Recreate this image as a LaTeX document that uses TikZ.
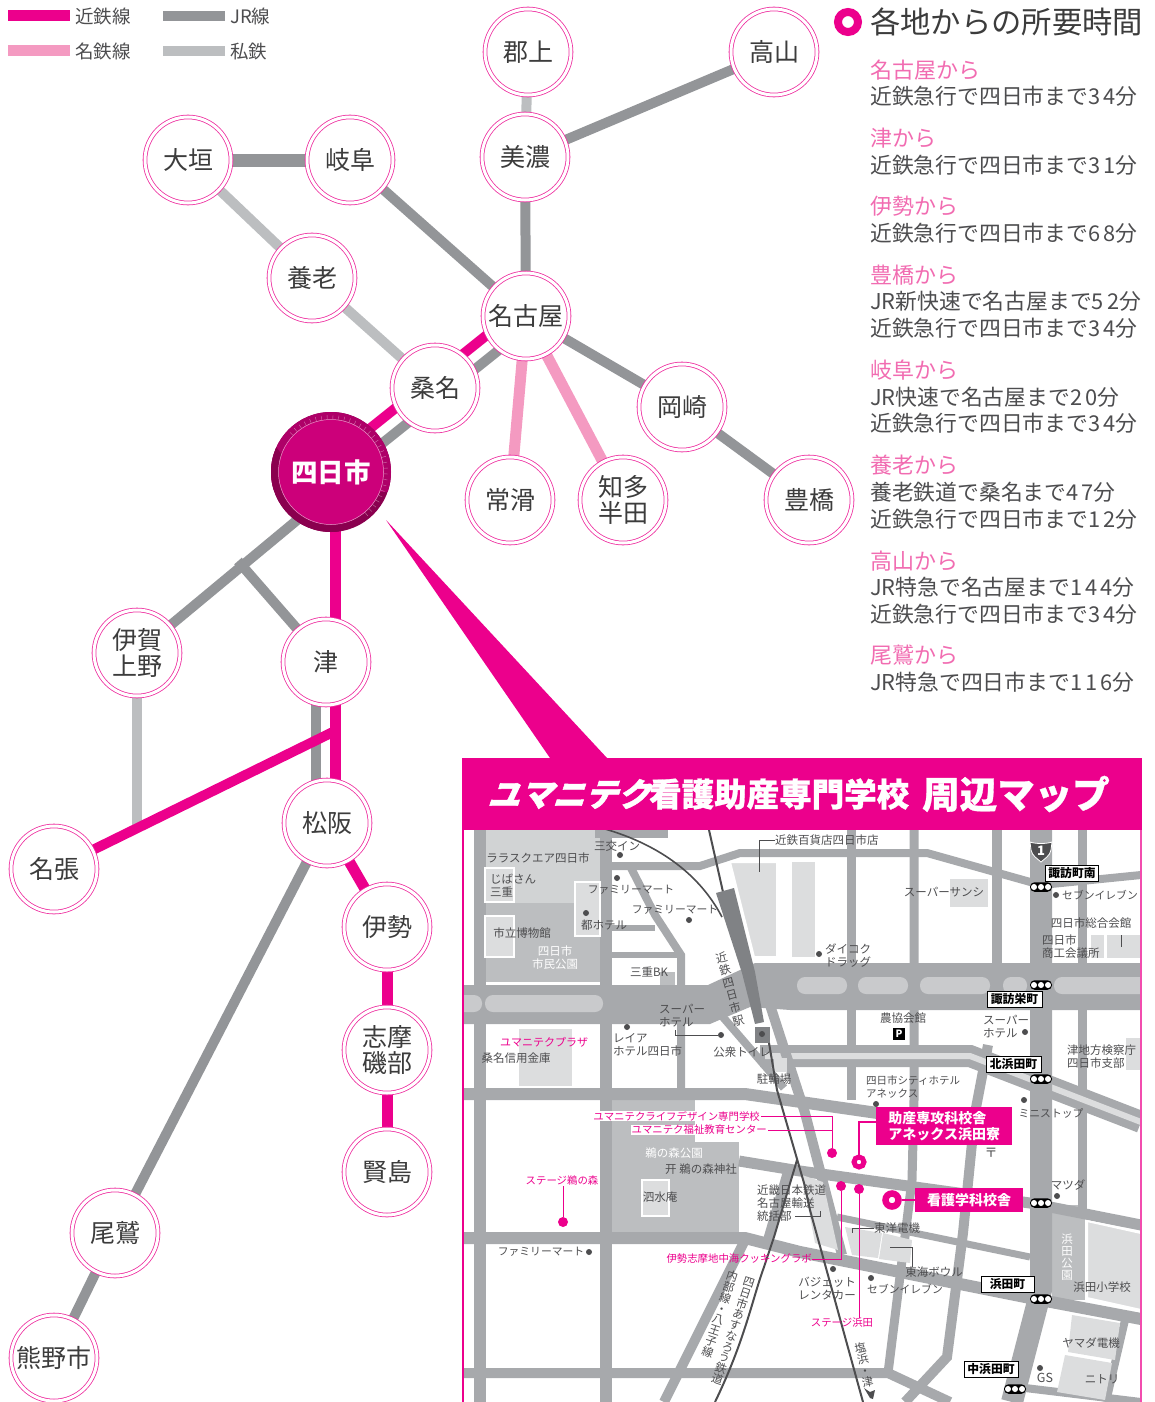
\documentclass[tikz,border=0pt]{standalone}
\usepackage{fontspec}
\setmainfont{Noto Sans CJK JP}
\newfontfamily\hdfont[FakeSlant=0.32,FakeBold=1.5]{Noto Sans CJK JP}
\newfontfamily\hbfont[FakeBold=.8]{Noto Sans CJK JP}
\newfontfamily\spc[LetterSpace=15]{Noto Sans CJK JP}
\usetikzlibrary{backgrounds,calc}
\definecolor{kin}{HTML}{EC008C}
\definecolor{mei}{HTML}{F49AC1}
\definecolor{jr}{HTML}{939598}
\definecolor{pri}{HTML}{BCBEC0}
\definecolor{roadc}{HTML}{A7A9AC}
\definecolor{bld}{HTML}{DCDDDE}
\definecolor{parkc}{HTML}{BCBEC0}
\definecolor{parkl}{HTML}{D1D3D4}
\definecolor{strip}{HTML}{C9CACC}
\definecolor{mapt}{HTML}{4D4D4F}
\definecolor{nodet}{HTML}{3C3C3C}
\definecolor{ringc}{HTML}{EE2FA0}
\definecolor{yokc}{HTML}{CC007A}
\definecolor{yokd}{HTML}{8A004F}
\definecolor{yokm}{HTML}{AE0068}
\definecolor{plat}{HTML}{808285}
\newcommand\fs[2]{\fontsize{#1}{#2}\selectfont}
\tikzset{
 st/.style={circle,minimum size=86pt,inner sep=0pt,draw=ringc,line width=.8pt,double=white,double distance=3pt,fill=white,text=nodet,align=center,font=\fs{25}{26}},
 kl/.style={line width=11pt,draw=kin},
 ml/.style={line width=11pt,draw=mei},
 jl/.style={line width=10pt,draw=jr},
 pl/.style={line width=10pt,draw=pri},
 leg/.style={anchor=west,inner sep=0pt,text=mapt,font=\fs{18.5}{19}},
 ttl/.style={anchor=west,inner sep=0pt,text=mei!70!kin,font=\fs{22}{22}},
 bdy/.style={anchor=west,inner sep=0pt,text=mapt,font=\fs{21.8}{22}},
 road/.style={draw=roadc,line join=miter},
 lbl/.style={inner sep=0pt,text=mapt,align=center,font=\fs{11.5}{13}},
 lbk/.style={lbl,font=\fs{10.8}{13}},
 lbw/.style={lbl,text=white},
 lbp/.style={inner sep=0pt,text=kin,align=center,font=\fs{10.4}{12}},
 lead/.style={draw=mapt,line width=.7pt},
 plead/.style={draw=kin,line width=1pt},
 dot/.style={circle,fill=mapt,minimum size=6pt,inner sep=0pt},
 pdot/.style={circle,fill=kin,minimum size=10pt,inner sep=0pt},
 ringn/.style={circle,draw=kin,fill=white,inner sep=0pt},
 junc/.style={draw=black,line width=.9pt,fill=white,inner sep=0pt,minimum height=16pt,text=black,font=\fs{11.8}{12}\bfseries},
 sigbox/.style={draw=none,fill=black,rounded corners=4.5pt,minimum width=22pt,minimum height=9.5pt,inner sep=0pt},
 pbox/.style={fill=kin,text=white,inner sep=0pt,align=left,font=\fs{14}{17}\bfseries},
 bb/.style={fill=bld},
 bbw/.style={fill=bld,draw=white,line width=2pt},
 stack/.style={inner sep=0pt,text=mapt,align=center},
}
\newcommand\sig[3]{\node[sigbox] (#1) at (#2,#3) {};
 \foreach \d in {-7,0,7}{\fill[white] ([shift={(\d,0)}]#1.center) circle (3pt);}}
\begin{document}
\begin{tikzpicture}[x=1pt,y=-1pt]
\useasboundingbox (0,0) rectangle (1154,1402);
% ---------- legend
\coordinate (la1) at (8,16); \coordinate (la2) at (70,16);
\coordinate (lb1) at (163,16); \coordinate (lb2) at (225,16);
\coordinate (lc1) at (8,51); \coordinate (lc2) at (70,51);
\coordinate (ld1) at (163,51); \coordinate (ld2) at (225,51);
\draw[kl] (la1)--(la2); \draw[jl] (lb1)--(lb2); \draw[ml] (lc1)--(lc2); \draw[pl] (ld1)--(ld2);
\node[leg] (lt1) at (75,16) {近鉄線};
\node[leg] (lt2) at (230,16) {JR線};
\node[leg] (lt3) at (75,51) {名鉄線};
\node[leg] (lt4) at (230,51) {私鉄};
% ---------- callout
\fill[kin] (386,520) -- (607,758) -- (550,758) -- cycle;
% ---------- map
\begin{scope}
\clip (464,830) rectangle (1141,1402);
% parks
\fill[parkl] (485,830) rectangle (600,903);
\fill[parkc] (485,903) rectangle (600,982);
\fill[parkc] (612,1100) rectangle (739,1232);
\fill[white] (695,1100) rectangle (739,1142);
\fill[parkc] (1052,1205) rectangle (1085,1300);
% roads
\draw[road,line width=12pt] (480,830)--(480,1402);
\draw[road,line width=12pt] (606,830)--(606,1402);
\draw[road,line width=8pt] (630,866)--(655,915)--(681,955)--(681,1094);
\draw[road,line width=8pt] (606,866)--(700,866)--(740,853)--(927,853)--(1041,885)--(1141,875);
\draw[road,line width=6pt] (606,928)--(655,928);
\draw[road,line width=6pt] (606,955)--(681,955);
\draw[road,line width=8pt] (595,834)--(668,834);
\draw[road,line width=9pt] (851,830)--(851,1100);
\draw[road,line width=9pt] (914,830)--(914,1100)--(912,1180)--(888,1373);
\draw[road,line width=10pt] (997,830)--(997,965);
\draw[road,line width=10pt] (988,1045)--(975,1113)--(963,1233)--(947,1357)--(905,1402);
\draw[road,line width=9pt] (1082,830)--(1082,1210);
\fill[roadc] (464,985) -- (708,985) -- (755,963) -- (1141,963) -- (1141,1010) -- (790,1010) -- (750,1007) -- (724,1018) -- (710,1024) -- (464,1024) -- cycle;
\draw[road,line width=22pt] (760,1056)--(970,1056)--(1141,1122);
\draw[draw=bld,line width=6pt] (765,1056)--(970,1056)--(1141,1122);
\draw[road,line width=22pt] (1041,830)--(1041,1290)--(1012,1402);
\draw[road,line width=12pt] (464,1094)--(745,1094)--(975,1127);
\draw[road,line width=11pt] (739,1161)--(800,1171)--(1030,1203)--(1141,1225);
\draw[road,line width=12pt] (464,1238)--(745,1238)--(800,1252)--(1030,1298)--(1141,1319);
\draw[road,line width=7pt] (837,1217)--(1030,1257);
\draw[road,line width=10pt] (464,1373)--(888,1373)--(950,1402);
\draw[road,line width=8pt] (1017,1387)--(1141,1402);
\draw[road,line width=10pt] (770,1005)--(805,1113)--(842,1255);
\draw[road,line width=8pt] (722,1016)--(784,1088);
\draw[road,line width=10pt] (790,1165)--(768,1240);
\draw[road,line width=10pt] (745,1240)--(664,1402);
\draw[road,line width=8pt] (1106,1402)--(1125,1320);
% strips
\foreach \a/\b in {450/482,485/603}{\fill[strip,rounded corners=8pt] (\a,995) rectangle (\b,1012);}
\foreach \a/\b in {797/847,858/908,920/990,1003/1027,1054/1160}{\fill[strip,rounded corners=8pt] (\a,977) rectangle (\b,994);}
% buildings
\fill[bbw] (485,868) rectangle (514,902);
\fill[bbw] (485,916) rectangle (514,957);
\fill[bbw] (575,882) rectangle (600,936);
\fill[bbw] (730,862) -- (777,862) -- (777,957) -- (754,957) -- cycle;
\fill[bb] (792,862) rectangle (815,957);
\fill[parkc] (660,972) rectangle (675,985);
\fill[bb] (519,1029) rectangle (572,1086);
\fill[bb] (774,1058) rectangle (787,1072);
\fill[bb] (950,879) rectangle (988,907);
\fill[bb] (1091,935) rectangle (1104,958);
\fill[bb] (1107,935) rectangle (1141,958);
\fill[bb] (1126,1038) rectangle (1141,1070);
\fill[bbw] (642,1180) rectangle (669,1216);
\fill[bbw] (1087,1221) -- (1141,1233) -- (1141,1310) -- (1087,1298) -- cycle;
\fill[bb] (1072,1315) -- (1120,1323) -- (1115,1360) -- (1068,1352) -- cycle;
\fill[bb] (1065,1355) -- (1112,1363) -- (1105,1400) -- (1057,1392) -- cycle;
\fill[bb] (845,1227) -- (882,1233) -- (878,1258) -- (852,1255) -- cycle;
\fill[bb] (883,1233) -- (912,1240) -- (910,1263) -- (879,1259) -- cycle;
\fill[bb] (802,1175) -- (823,1182) -- (838,1250) -- (815,1243) -- cycle;
% railways
\draw[mapt,line width=1.6pt] (605,829) .. controls (660,845) and (700,875) .. (722,917);
\draw[mapt,line width=2pt] (709,830)--(723,892);
\fill[plat] (716,893) -- (734,888) -- (755,972) -- (764,1022) -- (755,1024) -- (742,973) -- cycle;
\fill[plat] (755,1027) rectangle (770,1043);
\fill[mapt] (762,1034) circle (3pt);
\draw[mapt,line width=2pt] (769,1043)--(777,1090)--(804,1183)--(810,1210)--(863,1402);
\draw[mapt,line width=2pt] (797,1160)--(774,1237)--(764,1267) .. controls (752,1300) and (745,1340) .. (715,1402);
\end{scope}
% frame & header
\draw[kin,line width=2pt] (463,830)--(463,1402);
\draw[kin!70!white,line width=2pt] (1141,830)--(1141,1402);
\node[fill=kin,minimum width=680pt,minimum height=72pt,inner sep=0pt,anchor=north west] (hdr) at (462,758) {};
\node[anchor=west,inner sep=0pt,text=white,font=\hdfont\bfseries\fs{32.5}{33}] (h1) at (487,794) {ユマニテク};
\node[anchor=west,inner sep=0pt,text=white,font=\hbfont\bfseries\fs{32.5}{33}] (h2) at (649,794) {看護助産専門学校};
\node[anchor=west,inner sep=0pt,text=white,font=\hbfont\bfseries\fs{37.5}{38}] (h3) at (922,794) {周辺マップ};
% map labels
\node[lbl] (m1) at (538,858) {ララスクエア四日市};
\node[lbl] (m2) at (617,846) {三交イン};
\node[dot] (d2) at (620,855) {};
\node[lbl,anchor=west,align=left] (m3) at (490,886) {じばさん\\三重};
\node[dot] (d4) at (617,878) {};
\node[lbk] (m4) at (631,890) {ファミリーマート};
\node[lbk] (m5) at (675,910) {ファミリーマート};
\node[dot] (d5) at (689,920) {};
\node[dot] (d6) at (586,913) {};
\node[lbl] (m6) at (604,925) {都ホテル};
\node[lbl] (m7) at (522,933) {市立博物館};
\node[lbw] (m8) at (555,958) {四日市\\市民公園};
\node[lbl] (m9) at (649,972) {三重BK};
\node[lbl,anchor=west] (m10) at (775,840) {近鉄百貨店四日市店};
\coordinate (c10) at (759,872);
\draw[lead] (m10.west) -| (c10);
\node[lbl] (m11) at (944,892) {スーパーサンシ};
\node[dot] (d12) at (1056,895) {};
\node[lbk,anchor=west] (m12) at (1062,895) {セブンイレブン};
\node[lbl] (m13) at (1091,923) {四日市総合会館};
\coordinate (c13) at (1121,947);
\draw[lead] (1121,935) -- (c13);
\node[lbl,anchor=west,align=left] (m14) at (1042,947) {四日市\\商工会議所};
\node[dot] (d15) at (819,954) {};
\node[lbl,anchor=west,align=left] (m15) at (825,956) {ダイコク\\ドラッグ};
\node[stack,rotate=15,font=\fs{11.5}{13}] (m16) at (730,989) {近\\鉄\\四\\日\\市\\駅};
\node[lbp,inner xsep=2pt,text=kin,font=\fs{11}{12}] (m17) at (544,1042) {ユマニテクプラザ};
\node[lbl] (m18) at (516,1058) {桑名信用金庫};
\node[dot] (d19) at (627,1027) {};
\node[lbl,anchor=west,align=left] (m19) at (613,1045) {レイア\\ホテル四日市};
\node[lbl,anchor=west,align=left] (m20) at (659,1016) {スーパー\\ホテル};
\node[dot] (d20) at (721,1035) {};
\coordinate (c20) at (675,1030);
\draw[lead] (c20) |- (d20);
\node[lbl] (m21) at (742,1052) {公衆トイレ};
\node[lbl] (m22) at (774,1079) {駐輪場};
\node[lbl] (m23) at (903,1018) {農協会館};
\node[fill=black,text=white,minimum size=12pt,inner sep=0pt,font=\fs{10}{10}\bfseries] (m24) at (899,1034) {P};
\node[lbl,anchor=west,align=left] (m25) at (983,1027) {スーパー\\ホテル};
\node[dot] (d25) at (1025,1032) {};
\node[lbl,anchor=west,align=left] (m26) at (1067,1057) {津地方検察庁\\四日市支部};
\node[lbl,anchor=west,align=left,font=\fs{10.5}{13}] (m27) at (866,1087) {四日市シティホテル\\アネックス};
\node[dot] (d27) at (876,1104) {};
\node[dot] (d28) at (1024,1100) {};
\node[lbk] (m28) at (1051,1113) {ミニストップ};
\node[lbl,font=\fs{13}{13}] (m29) at (991,1153) {〒};
\node[lbl] (m30) at (1068,1185) {マツダ};
\node[dot] (d30) at (1057,1196) {};
\node[lbw] (m31) at (674,1153) {鵜の森公園};
\node[lbl] (m32) at (701,1169) {开 鵜の森神社};
\node[lbl] (m33) at (660,1197) {泗水庵};
\node[lbl,anchor=west,align=left] (m34) at (757,1203) {近畿日本鉄道\\名古屋輸送\\統括部};
\coordinate (c34) at (820,1211);
\draw[lead] (795,1216) -| (c34);
\node[lbk] (m35) at (541,1252) {ファミリーマート};
\node[dot] (d35) at (589,1252) {};
\node[lbl,align=left] (m36) at (827,1289) {バジェット\\レンタカー};
\node[dot] (d36) at (833,1269) {};
\node[lbk] (m37) at (905,1289) {セブンイレブン};
\node[dot] (d37) at (871,1278) {};
\node[lbl] (m38) at (897,1228) {東洋電機};
\coordinate (c38) at (852,1233);
\draw[lead] (m38.west) -| (c38);
\node[lbl] (m39) at (934,1272) {東海ボウル};
\coordinate (c39) at (890,1247);
\draw[lead] (c39) -| (m39.north -| 912,0);
\node[lbl] (m40) at (1102,1287) {浜田小学校};
\node[stack,text=white,font=\fs{11.5}{12}] (m41) at (1067,1257) {浜\\田\\公\\園};
\node[lbl] (m42) at (1091,1343) {ヤマダ電機};
\node[lbl,font=\fs{12.5}{13}] (m43) at (1045,1378) {GS};
\node[dot] (d43) at (1040,1368) {};
\node[lbl] (m44) at (1102,1379) {ニトリ};
\node[stack,rotate=-18,font=\fs{11.5}{11.3}] (m45) at (733,1331) {四\\日\\市\\あ\\す\\な\\ろ\\う\\鉄\\道};
\node[stack,rotate=-18,font=\fs{11.5}{11.3}] (m46) at (720,1314) {内\\部\\線\\・\\八\\王\\子\\線};
\node[stack,rotate=12,font=\fs{11.5}{11.5}] (m47) at (864,1365) {塩\\浜\\・\\津};
\fill[mapt] (864,1388) -- (870,1392) -- (875,1390) -- (873,1399) -- (870,1398) -- cycle;
% pink labels
\node[lbp,fill=white,anchor=east,inner xsep=1pt] (p1) at (761,1116) {ユマニテクライフデザイン専門学校};
\node[lbp,fill=white,anchor=east,inner xsep=1pt] (p2) at (768,1130) {ユマニテク福祉教育センター};
\node[pdot] (pd1) at (832,1153) {};
\draw[plead] (p1.east) -| (pd1);
\draw[plead] (p2.east) -- (pd1.north |- p2.east);
\node[pbox,anchor=north west,minimum width=136pt,minimum height=38pt,inner xsep=9pt] (b1) at (876,1107) {助産専攻科校舎\\アネックス浜田寮};
\node[ringn,line width=5pt,minimum size=10pt] (r1) at (859,1162) {};
\draw[kin,line width=2pt] (b1.west |- 859,1122) -| (r1);
\node[pbox,minimum width=108pt,minimum height=24pt,anchor=west,align=center] (b2) at (915,1200) {看護学科校舎};
\node[ringn,line width=6.5pt,minimum size=13pt] (r2) at (892,1200) {};
\draw[kin,line width=2pt] (r2) -- (b2);
\node[pdot] (pd2) at (841,1186) {};
\node[pdot] (pd3) at (859,1189) {};
\node[lbp,anchor=east] (p3) at (812,1259) {伊勢志摩地中海クッキングラボ};
\draw[plead] (pd2) |- (p3.east);
\node[lbp] (p4) at (842,1323) {ステージ浜田};
\draw[plead] (pd3) -- (pd3 |- p4.north);
\node[lbp] (p5) at (562,1181) {ステージ鵜の森};
\node[pdot] (pd5) at (563,1222) {};
\draw[plead] (pd5) -- (pd5 |- p5.south);
% junctions
\node[junc,minimum width=53pt] (j1) at (1072,873.5) {諏訪町南};
\node[junc,minimum width=55pt] (j2) at (1014.5,999.5) {諏訪栄町};
\node[junc,minimum width=55pt] (j3) at (1013.5,1064.5) {北浜田町};
\node[junc,minimum width=53pt] (j4) at (1007.5,1284) {浜田町};
\node[junc,minimum width=54pt] (j5) at (991,1369.5) {中浜田町};
\sig{s1}{1041}{887}
\sig{s2}{1041}{985}
\sig{s3}{1041}{1079}
\sig{s4}{1041}{1203}
\sig{s5}{1041}{1299}
\sig{s6}{1015}{1389}
\draw[fill=mapt,draw=white,line width=.8pt] (1030,842) .. controls (1036,844) and (1046,844) .. (1052,842) -- (1051,850) .. controls (1050,856) and (1044,859) .. (1041,862) .. controls (1038,859) and (1032,856) .. (1031,850) -- cycle;
\node[inner sep=0pt,text=white,font=\fs{13}{13}\bfseries] (rt) at (1041,851) {1};
% ---------- stations
\node[st] (gu) at (528,52) {郡上};
\node[st] (ta) at (774,52) {高山};
\node[st] (mi) at (525,157) {美濃};
\node[st] (gi) at (350,160) {岐阜};
\node[st] (og) at (188,160) {大垣};
\node[st] (yo) at (312,278) {養老};
\node[st] (nag) at (526,316) {名古屋};
\node[st] (ku) at (435,388) {桑名};
\node[st] (ok) at (682,407) {岡崎};
\node[st] (to) at (510,500) {常滑};
\node[st] (ch) at (623,500) {知多\\半田};
\node[st] (hs) at (809,500) {豊橋};
\node[st] (ig) at (137,653) {伊賀\\上野};
\node[st] (ts) at (326,662) {津};
\node[st] (ma) at (327,823) {松阪};
\node[st] (na) at (54,869) {名張};
\node[st] (is) at (387,927) {伊勢};
\node[st] (sh) at (387,1050) {志摩\\磯部};
\node[st] (ka) at (387,1172) {賢島};
\node[st] (ow) at (115,1233) {尾鷲};
\node[st] (ku2) at (54,1358) {熊野市};
\node[circle,fill=yokd,minimum size=120pt,inner sep=0pt] (yr) at (331,472) {};
\begin{scope}
\clip (331,472) circle (60pt);
\fill[yokm] (271,412) rectangle (401,492);
\fill[yokd] (271,440) -- (345,540) -- (271,540) -- cycle;
\end{scope}
\foreach \ang in {-50,-44,...,140}{\draw[white,opacity=.45,line width=.4pt] ($(yr.center)+(\ang:53pt)$) -- ($(yr.center)+(\ang:57pt)$);}
\node[circle,fill=yokc,draw=white!60!yokc,line width=.5pt,minimum size=105pt,inner sep=0pt,text=white,font=\fs{26.5}{27}\bfseries] (yok) at (331,472) {四日市};
% ---------- lines
\begin{scope}[on background layer]
\coordinate (br) at (238,561);
\coordinate (ipj) at (137,828);
\coordinate (nj) at (337,730);
\draw[pl] (gu.center)--(mi.center);
\draw[jl] (mi.center)--(ta.center);
\draw[jl] (mi.center)--(nag.center);
\draw[jl,line width=13pt] (og.center)--(gi.center);
\draw[jl] (gi.center)--(nag.center);
\draw[pl] (og.center)--(yo.center);
\draw[pl] (yo.center)--(ku.center);
\draw[kl,line width=10pt] ([shift={(-6,-7.5)}]yok.center)--([shift={(-6,-7.5)}]nag.center);
\draw[jl] ([shift={(6,7.5)}]yok.center)--([shift={(6,7.5)}]nag.center);
\draw[jl] (nag.center)--(ok.center);
\draw[jl] (ok.center)--(hs.center);
\draw[ml] (nag.center)--(to.center);
\draw[ml] (nag.center)--(ch.center);
\draw[jl] ([shift={(0,20)}]yok.center)--(ig.center);
\draw[jl] (br)--(ts.center);
\draw[jl] ([shift={(-10,0)}]ts.center)--([shift={(-11,0)}]ma.center);
\draw[kl] ([shift={(4,0)}]yok.center)--([shift={(8,0)}]ma.center);
\draw[pl] (ig.center)--(ipj);
\draw[kl,line width=10pt] (na.center)--(nj);
\draw[kl] (ma.center)--(is.center);
\draw[kl] (is.center)--(sh.center);
\draw[kl] (sh.center)--(ka.center);
\draw[jl] (ma.center)--(ow.center);
\draw[jl] (ow.center)--(ku2.center);
\end{scope}
% ---------- right panel
\node[ringn,line width=8pt,minimum size=20pt] (pr) at (848,22) {};
\node[anchor=west,inner sep=0pt,text=nodet,font=\fs{30.3}{31}] (pt) at (870,22) {各地からの所要時間};
\node[ttl] (a1) at (870,70) {名古屋から};
\node[bdy] (a2) at (870,96) {近鉄急行で四日市まで{\spc 34}分};
\node[ttl] (a3) at (870,138) {津から};
\node[bdy] (a4) at (870,165) {近鉄急行で四日市まで{\spc 31}分};
\node[ttl] (a5) at (870,206) {伊勢から};
\node[bdy] (a6) at (870,233) {近鉄急行で四日市まで{\spc 68}分};
\node[ttl] (a7) at (870,275) {豊橋から};
\node[bdy] (a8) at (870,301) {JR新快速で名古屋まで{\spc 52}分};
\node[bdy] (a9) at (870,328) {近鉄急行で四日市まで{\spc 34}分};
\node[ttl] (a10) at (870,370) {岐阜から};
\node[bdy] (a11) at (870,397) {JR快速で名古屋まで{\spc 20}分};
\node[bdy] (a12) at (870,423) {近鉄急行で四日市まで{\spc 34}分};
\node[ttl] (a13) at (870,465) {養老から};
\node[bdy] (a14) at (870,492) {養老鉄道で桑名まで{\spc 47}分};
\node[bdy] (a15) at (870,519) {近鉄急行で四日市まで{\spc 12}分};
\node[ttl] (a16) at (870,561) {高山から};
\node[bdy] (a17) at (870,587) {JR特急で名古屋まで{\spc 144}分};
\node[bdy] (a18) at (870,614) {近鉄急行で四日市まで{\spc 34}分};
\node[ttl] (a19) at (870,655) {尾鷲から};
\node[bdy] (a20) at (870,682) {JR特急で四日市まで{\spc 116}分};
\end{tikzpicture}
\end{document}
